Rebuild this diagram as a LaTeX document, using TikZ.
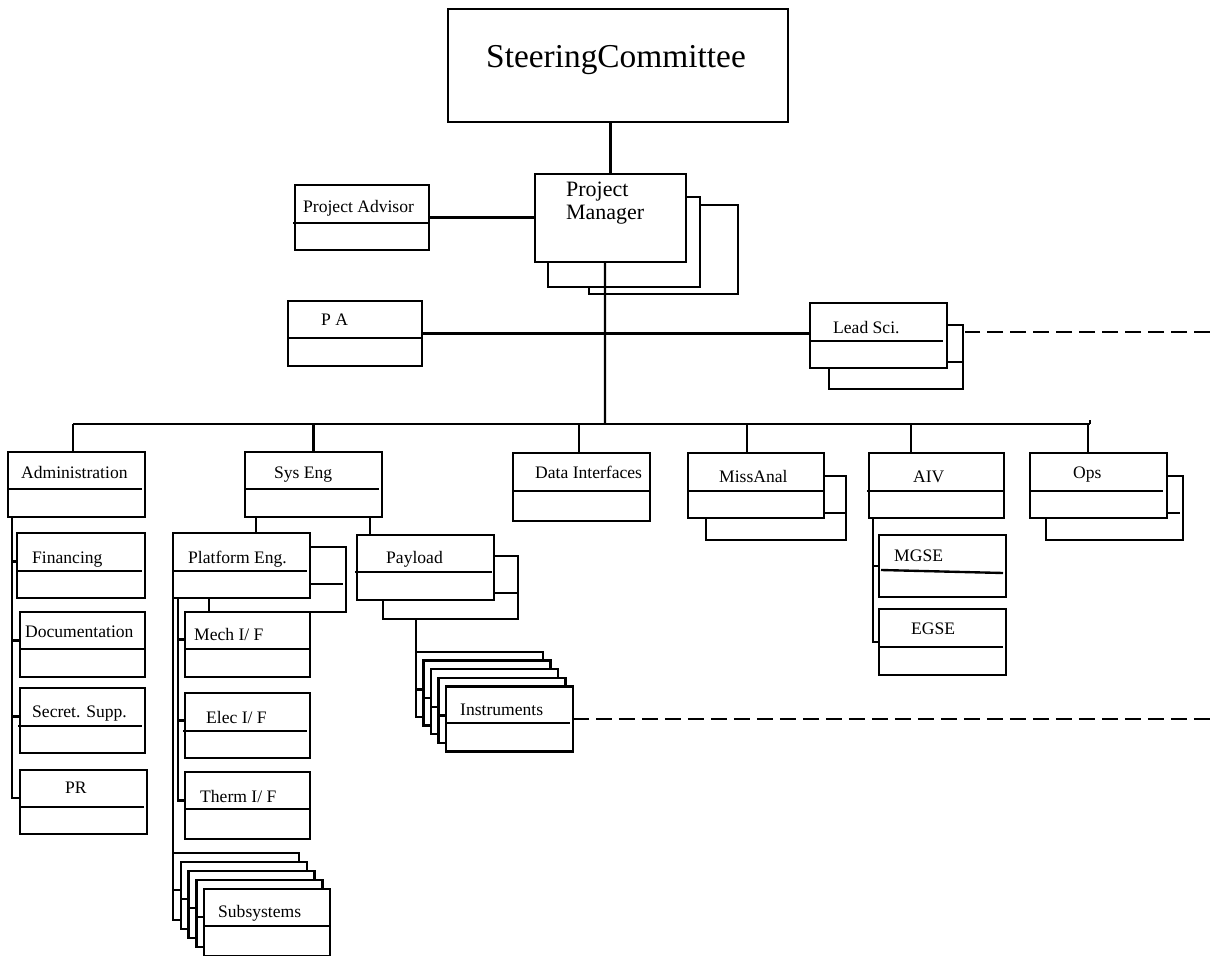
\documentclass[tikz,border=0pt]{standalone}
\usepackage{fontspec}
\setmainfont{Liberation Serif}
\usepackage{tikz}

\begin{document}
\begin{tikzpicture}[x=0.02cm, y=-0.02cm, line width=1.35pt, font={\fontsize{10}{12}\selectfont},
    orgbox/.style 2 args={draw, fill=white, anchor=north west, inner sep=0pt, outer sep=0pt,
        minimum width=#1*0.02cm, minimum height=#2*0.02cm},
    lbl/.style={anchor=base west, inner sep=0pt},
    dashline/.style={dash pattern=on 0.32cm off 0.14cm}]
    \useasboundingbox (0,0) rectangle (1210,956);

    % Steering committee and manager
    \node[orgbox={340}{113}] (steer) at (448,9) {};
    \node[lbl, font={\fontsize{19}{22}\selectfont}] (steertxt) at (485,68) {SteeringCommittee};
    \node[orgbox={151}{88}] (pm) at (535,174) {};
    \node[lbl, font={\fontsize{12.5}{15}\selectfont}] (pmtxt1) at (565,197) {Project};
    \node[lbl, font={\fontsize{12.5}{15}\selectfont}] (pmtxt2) at (565,220) {Manager};
    \draw (686,197) -- (700,197) -- (700,287) -- (548,287) -- (548,262);
    \draw (700,205) -- (738,205) -- (738,294) -- (589,294) -- (589,287);
    \draw (pm.north) -- (pm.north |- steer.south);

    % Advisor
    \node[orgbox={134}{65}] (adv) at (295,185) {};
    \draw (293,223) -- (429,223);
    \node[lbl] (advtxt) at (302,213) {Project Advisor};
    \draw (adv.east) -- (adv.east -| pm.west);

    % PA and lead scientist
    \node[orgbox={134}{65}] (pa) at (288,301) {};
    \draw (287,338) -- (422,338);
    \node[lbl] (patxt) at (320,325) {P A};
    \node[orgbox={137}{65}] (lead) at (810,303) {};
    \draw (810,341) -- (943,341);
    \node[lbl] (leadtxt) at (832,333) {Lead Sci.};
    \draw (947,325) -- (963,325) -- (963,389) -- (829,389) -- (829,368);
    \draw (947,362) -- (963,362);
    \draw (pa.east) -- (pa.east -| lead.west);
    \coordinate (sciout) at (1210,332);
    \draw[dashline] (sciout) -- ++(-245,0);

    % Trunk and bus
    \coordinate (hub) at (605,424);
    \coordinate (busL) at (73,424);
    \coordinate (busR) at (1090,424);
    \draw ([xshift=-0.11cm]pm.south) -- (hub);
    \draw (busL) -- (busR);
    \draw (busR) ++(0,-4) -- ++(0,4);

    % Departments
    \node[orgbox={137}{65}] (admin) at (8,452) {};
    \draw (8,489) -- (142,489);
    \node[lbl] (admintxt) at (20,478) {Administration};
    \node[orgbox={137}{65}] (syseng) at (245,452) {};
    \draw (245,489) -- (379,489);
    \node[lbl] (sysengtxt) at (273,478) {Sys Eng};
    \node[orgbox={137}{68}] (data) at (513,453) {};
    \draw (513,491) -- (650,491);
    \node[lbl] (datatxt) at (534,478) {Data Interfaces};
    \node[orgbox={136}{65}] (miss) at (688,453) {};
    \draw (688,491) -- (824,491);
    \node[lbl] (misstxt) at (718,482) {MissAnal};
    \draw (824,476) -- (846,476) -- (846,540) -- (706,540) -- (706,518);
    \draw (824,513) -- (846,513);
    \node[orgbox={135}{65}] (aiv) at (869,453) {};
    \draw (867,491) -- (1004,491);
    \node[lbl] (aivtxt) at (912,482) {AIV};
    \node[orgbox={137}{65}] (ops) at (1030,453) {};
    \draw (1030,491) -- (1163,491);
    \node[lbl] (opstxt) at (1072,478) {Ops};
    \draw (1167,476) -- (1183,476) -- (1183,540) -- (1046,540) -- (1046,518);
    \draw (1167,513) -- (1180,513);
    \foreach \n/\dx in {admin/-0.07, syseng/0, data/-0.05, miss/-0.18, aiv/-0.51, ops/-0.21}
        \draw ([xshift=\dx cm]\n.north) -- ([xshift=\dx cm]\n.north |- busL);

    % Administration
    \node[orgbox={128}{65}] (fin) at (17,533) {};
    \draw (17,571) -- (142,571);
    \node[lbl] (fintxt) at (31,563) {Financing};
    \node[orgbox={125}{65}] (doc) at (20,612) {};
    \draw (20,649) -- (145,649);
    \node[lbl] (doctxt) at (24,637) {Documentation};
    \node[orgbox={125}{65}] (sec) at (20,688) {};
    \draw (18,726) -- (142,726);
    \node[lbl] (sectxt) at (31,717) {Secret. Supp.};
    \node[orgbox={127}{64}] (pr) at (20,770) {};
    \draw (20,807) -- (144,807);
    \node[lbl] (prtxt) at (64,793) {PR};
    \foreach \n in {fin, doc, sec, pr}
        \draw ([xshift=0.08cm]admin.south west) |- ([yshift=0.08cm]\n.west);

    % Systems engineering
    \node[orgbox={137}{65}] (plat) at (173,533) {};
    \draw (173,571) -- (307,571);
    \node[lbl] (plattxt) at (187,563) {Platform Eng.};
    \draw (310,547) -- (346,547) -- (346,612) -- (310,612);
    \draw (310,584) -- (343,584);
    \draw (209,598) -- (209,612);
    \node[orgbox={137}{65}] (pay) at (357,535) {};
    \draw (355,572) -- (492,572);
    \node[lbl] (paytxt) at (385,563) {Payload};
    \draw (494,556) -- (518,556) -- (518,619) -- (383,619) -- (383,600);
    \draw (494,593) -- (518,593);
    \draw ([xshift=-1.15cm]syseng.south) -- ([xshift=-1.15cm]syseng.south |- plat.north);
    \draw ([xshift=1.13cm]syseng.south) -- ([xshift=1.13cm]syseng.south |- pay.north);

    % Platform interfaces
    \node[orgbox={125}{65}] (mech) at (185,612) {};
    \draw (185,649) -- (310,649);
    \node[lbl] (mechtxt) at (193,640) {Mech I/ F};
    \node[orgbox={125}{65}] (elec) at (185,693) {};
    \draw (183,731) -- (307,731);
    \node[lbl] (electxt) at (205,723) {Elec I/ F};
    \node[orgbox={125}{67}] (therm) at (185,772) {};
    \draw (185,809) -- (310,809);
    \node[lbl] (thermtxt) at (199,802) {Therm I/ F};
    \foreach \n in {mech, elec, therm}
        \draw ([xshift=0.1cm]plat.south west) |- ([yshift=0.1cm]\n.west);

    % Subsystems stack
    \foreach \i in {0,...,4}
        \node[orgbox={126}{67}] (sub\i) at ({173+7.8*\i},{853+9*\i}) {};
    \foreach \i in {1,...,4}
        \draw ([yshift=-0.56cm]sub\i.north west) -- ++(-7.8,0);
    \draw (sub4.west |- 0,926) -- (sub4.east |- 0,926);
    \node[lbl] (subtxt) at (217,917) {Subsystems};
    \draw (plat.south west) -- (sub0.north west);

    % Instruments stack
    \foreach \i in {0,...,4}
        \node[orgbox={127}{65}] (ins\i) at ({416+7.5*\i},{652+8.6*\i}) {};
    \foreach \i in {1,...,4}
        \draw ([yshift=-0.58cm]ins\i.north west) -- ++(-7.5,0);
    \draw (ins4.west |- 0,723) -- (570,723);
    \node[lbl] (instxt) at (459,715) {Instruments};
    \draw (ins0.north west) -- ++(0,-33);
    \draw[dashline] (ins4.east) -- (ins4.east -| sciout);

    % AIV ground equipment
    \node[orgbox={127}{62}] (mgse) at (879,535) {};
    \draw (881,570) -- (1003,573);
    \node[lbl] (mgsetxt) at (893,561) {MGSE};
    \node[orgbox={127}{66}] (egse) at (879,609) {};
    \draw (879,647) -- (1003,647);
    \node[lbl] (egsetxt) at (910,634) {EGSE};
    \foreach \n in {mgse, egse}
        \draw ([xshift=0.08cm]aiv.south west) |- (\n.west);
\end{tikzpicture}
\end{document}
